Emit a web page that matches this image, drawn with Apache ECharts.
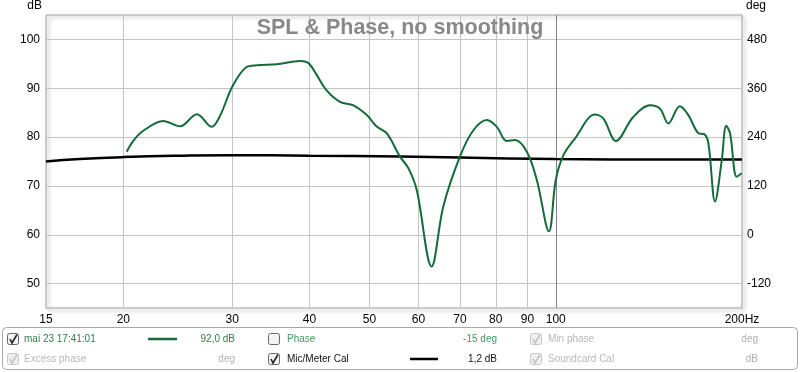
<!DOCTYPE html>
<html><head><meta charset="utf-8">
<script src="https://cdn.jsdelivr.net/npm/echarts@6/dist/echarts.min.js"></script>
<style>html,body{margin:0;padding:0;background:#fff}#c{width:800px;height:372px}</style>
</head><body><div id="c"></div>
<script>
// ---- data ----
const freqTicks = [15, 20, 30, 40, 50, 60, 70, 80, 90, 100, 200];
const dbTicks = [50, 60, 70, 80, 90, 100];
const degTicks = [-120, 0, 120, 240, 360, 480];

const splFreq = [20.25, 20.8, 21.6, 23.2, 24.7, 26.3, 27.8, 28.7, 30, 31.6, 32.9, 35.4, 38.6, 39.8, 40.96, 42.6, 44.8, 47.1, 49.5, 51.3, 53.3, 56.0, 57.8, 59.6, 63.0, 65.8, 70.0, 73.6, 77.4, 80.3, 83.3, 85.9, 89.8, 93.2, 97.5, 100, 102.9, 107.4, 115.7, 119.4, 125.1, 133.4, 142.0, 147.4, 152.0, 158.7, 163.8, 170.1, 173.8, 176.5, 180.9, 185.5, 188.6, 191.3, 196.1, 199.8];
const splDb = [77.0, 79.4, 81.4, 83.3, 82.2, 84.7, 82.1, 84.5, 90.3, 94.3, 94.7, 94.9, 95.6, 95.2, 93.0, 89.6, 87.2, 86.5, 84.5, 82.2, 80.8, 76.0, 73.6, 69.2, 53.5, 65.8, 76.0, 81.4, 83.5, 82.1, 79.2, 79.4, 77.0, 71.2, 60.7, 71.2, 76.3, 79.7, 84.6, 83.8, 79.2, 84.1, 86.5, 85.8, 82.8, 86.3, 84.5, 80.8, 80.6, 78.7, 66.8, 75.3, 82.3, 80.8, 71.9, 72.6];

const calFreq = [15, 17, 20, 25, 30, 40, 56, 70, 100, 150, 200];
const calDb = [75.0, 75.5, 75.9, 76.2, 76.3, 76.2, 76.0, 75.8, 75.5, 75.4, 75.4];

const titleText = 'SPL & Phase, no smoothing';
const legendRows = [
  [{label: 'mai 23 17:41:01', value: '92,0 dB', check: 'on', color: '#2f7d4e', line: '#146b3a'},
   {label: 'Phase', value: '-15 deg', check: 'off', color: '#3f9a60'},
   {label: 'Min phase', value: 'deg', check: 'dis', color: '#b8b8b8'}],
  [{label: 'Excess phase', value: 'deg', check: 'dis', color: '#b8b8b8'},
   {label: 'Mic/Meter Cal', value: '1,2 dB', check: 'on', color: '#111', line: '#000'},
   {label: 'Soundcard Cal', value: 'dB', check: 'dis', color: '#b8b8b8'}]
];

// ---- chart ----
const FONT = "'Liberation Sans', Arial, sans-serif";
const chart = echarts.init(document.getElementById('c'), null, {renderer: 'canvas'});

const zip = (a, b) => a.map((v, i) => [v, b[i]]);

function checkbox(x, y, state) {
  const enabled = state !== 'dis';
  const els = [{
    type: 'rect', shape: {x: x + 0.5, y: y + 0.5, width: 11, height: 11, r: 2},
    style: {fill: enabled ? '#f4f4f4' : '#f0f0f0', stroke: enabled ? '#666' : '#c8c8c8', lineWidth: 1}
  }];
  if (state !== 'off') {
    els.push({type: 'polyline', shape: {points: [[x + 3, y + 6], [x + 5, y + 10], [x + 10, y + 1.5]]},
      style: {stroke: enabled ? '#222' : '#c4c4c4', lineWidth: 1.6, fill: null}});
  }
  return els;
}

const colX = [{box: 7, label: 24, line: [148, 177], value: 235},
              {box: 268, label: 287, line: [410, 438], value: 497},
              {box: 530, label: 548, line: null, value: 758}];
const rowY = [339, 359];
const graphics = [{
  type: 'rect', shape: {x: 2.5, y: 327.5, width: 795, height: 42, r: 4},
  style: {fill: '#fff', stroke: '#a8a8a8', lineWidth: 1}
}];
legendRows.forEach((row, ri) => {
  const cy = rowY[ri];
  row.forEach((it, ci) => {
    const c = colX[ci];
    graphics.push(...checkbox(c.box, cy - 6, it.check));
    graphics.push({type: 'text', x: c.label, y: cy, style: {text: it.label, fill: it.color, font: '10px ' + FONT, textAlign: 'left', textVerticalAlign: 'middle'}});
    if (it.line && c.line) {
      graphics.push({type: 'line', shape: {x1: c.line[0], y1: cy, x2: c.line[1], y2: cy}, style: {stroke: it.line, lineWidth: 2.5}});
    }
    graphics.push({type: 'text', x: c.value, y: cy, style: {text: it.value, fill: it.check === 'dis' ? '#b0b0b0' : it.color, font: '10px ' + FONT, textAlign: 'right', textVerticalAlign: 'middle'}});
  });
});

const vColors = freqTicks.map(f => f === 100 ? '#808080' : '#c4c4c4');

chart.setOption({
  animation: false,
  backgroundColor: '#fff',
  title: {
    text: titleText, left: 'center', top: 12,
    textStyle: {color: '#888888', fontSize: 21.5, fontWeight: 'bold', fontFamily: FONT}
  },
  grid: {
    left: 46, right: 58, top: 14, bottom: 64, show: true,
    backgroundColor: 'rgba(255,255,255,0)', borderColor: '#a4a4a4', borderWidth: 1,
    shadowBlur: 4, shadowColor: 'rgba(0,0,0,0.4)', shadowOffsetX: 2, shadowOffsetY: 2
  },
  xAxis: {
    type: 'log', logBase: 10, min: 15, max: 200,
    axisLine: {show: false}, axisTick: {show: false, customValues: freqTicks},
    axisLabel: {customValues: freqTicks, color: '#000', fontSize: 12, fontFamily: FONT, margin: 6,
      formatter: v => (Math.round(v) === 200 ? '200Hz' : String(Math.round(v)))},
    splitLine: {show: true, lineStyle: {color: vColors, width: 1}}
  },
  yAxis: [{
    type: 'value', min: 45, max: 105, position: 'left',
    name: 'dB', nameLocation: 'end', nameGap: 9,
    nameTextStyle: {color: '#000', fontSize: 12, fontFamily: FONT, align: 'right', verticalAlign: 'middle', padding: [0, 4, 0, 0]},
    axisLine: {show: false}, axisTick: {show: false, customValues: dbTicks},
    axisLabel: {customValues: dbTicks, color: '#000', fontSize: 12, fontFamily: FONT, margin: 6},
    splitLine: {show: true, lineStyle: {color: '#c4c4c4', width: 1}}
  }, {
    type: 'value', min: -180, max: 540, position: 'right',
    name: 'deg', nameLocation: 'end', nameGap: 9,
    nameTextStyle: {color: '#000', fontSize: 12, fontFamily: FONT, align: 'left', verticalAlign: 'middle', padding: [0, 0, 0, 4]},
    axisLine: {show: false}, axisTick: {show: false, customValues: degTicks},
    axisLabel: {customValues: degTicks, color: '#000', fontSize: 12, fontFamily: FONT, margin: 5},
    splitLine: {show: false}
  }],
  graphic: graphics,
  series: [{
    name: 'Mic/Meter Cal', type: 'line', yAxisIndex: 0, data: zip(calFreq, calDb),
    showSymbol: false, smooth: 0.5, lineStyle: {color: '#000', width: 2.5}, z: 3
  }, {
    name: 'mai 23 17:41:01', type: 'line', yAxisIndex: 0, data: zip(splFreq, splDb),
    showSymbol: false, smooth: 0.35, lineStyle: {color: '#146b3a', width: 2}, z: 4
  }]
});
</script></body></html>
